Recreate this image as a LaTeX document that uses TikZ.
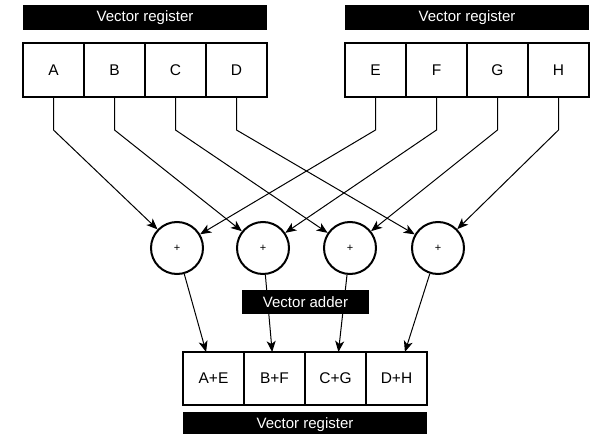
\documentclass[tikz,border=0pt]{standalone}
\usepackage{fontspec}
\setmainfont{Liberation Sans}
\usetikzlibrary{arrows.meta}

\tikzset{
	cell/.style={draw=black, line width=1.7pt, minimum width=61pt, minimum height=54pt, inner sep=0pt, outer sep=0pt, font=\fontsize{15.5}{18}\selectfont},
	bar/.style={fill=black, text=white, minimum width=244pt, minimum height=25pt, inner sep=0pt, font=\fontsize{15}{18}\selectfont},
	adder/.style={circle, draw=black, line width=2pt, minimum size=52pt, inner sep=0pt, font=\fontsize{11}{12}\selectfont},
	wire/.style={line width=1pt, -{Stealth[length=11pt,width=9pt,inset=3pt]}}
}

\begin{document}
\begin{tikzpicture}[x=1pt,y=-1pt]
	\useasboundingbox (0,0) rectangle (590,434);
	
	% input registers
	\node [bar] (barleft) at (145,17.5) {Vector register};
	\node [bar] (barright) at (467,17.5) {Vector register};
	
	\node [cell] (a) at (53.5,70) {A};
	\node [cell] (b) at (114.5,70) {B};
	\node [cell] (c) at (175.5,70) {C};
	\node [cell] (d) at (236.5,70) {D};
	
	\node [cell] (e) at (375.5,70) {E};
	\node [cell] (f) at (436.5,70) {F};
	\node [cell] (g) at (497.5,70) {G};
	\node [cell] (h) at (558.5,70) {H};
	
	% adders
	\node [adder] (plusa) at (177,248) {+};
	\node [adder] (plusb) at (263,248) {+};
	\node [adder] (plusc) at (350,248) {+};
	\node [adder] (plusd) at (438,248) {+};
	
	% output register
	\node [cell, minimum height=53pt] (ae) at (213.5,378.5) {A+E};
	\node [cell, minimum height=53pt] (bf) at (274.5,378.5) {B+F};
	\node [cell, minimum height=53pt] (cg) at (335.5,378.5) {C+G};
	\node [cell, minimum height=53pt] (dh) at (396.5,378.5) {D+H};
	\node [bar] (barbottom) at (305,424.5) {Vector register};
	
	\draw[wire] (a.south) -- ++(0,33) -- (plusa);
	\draw[wire] (e.south) -- ++(0,33) -- (plusa);
	\draw[wire] (b.south) -- ++(0,33) -- (plusb);
	\draw[wire] (f.south) -- ++(0,33) -- (plusb);
	\draw[wire] (c.south) -- ++(0,33) -- (plusc);
	\draw[wire] (g.south) -- ++(0,33) -- (plusc);
	\draw[wire] (d.south) -- ++(0,33) -- (plusd);
	\draw[wire] (h.south) -- ++(0,33) -- (plusd);
	
	\draw[wire] (plusa) -- (ae);
	\draw[wire] (plusb) -- (bf);
	\draw[wire] (plusc) -- (cg);
	\draw[wire] (plusd) -- (dh);
	
	\node [bar, minimum width=127pt, minimum height=24pt] (baradder) at (305.5,302) {Vector adder};
\end{tikzpicture}
\end{document}
